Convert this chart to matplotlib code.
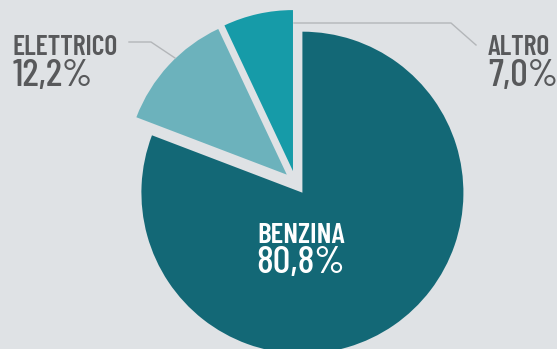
import matplotlib
matplotlib.use("Agg")
import matplotlib.pyplot as plt

# Fuel type shares
categories = ["ALTRO", "ELETTRICO", "BENZINA"]
shares = [7.0, 12.2, 80.8]
share_labels = ["7,0%", "12,2%", "80,8%"]
colors = ["#169ba8", "#6cb2bc", "#136876"]

BG = "#dfe2e5"
TXT = "#58595b"
LINE = "#b3b6b9"
FONT = ["Barlow Condensed", "DejaVu Sans"]

W, H = 557, 349
fig = plt.figure(figsize=(W / 100, H / 100), dpi=100, facecolor=BG)
ax = fig.add_axes([0, 0, 1, 1])
ax.set_facecolor(BG)

ax.pie(shares, colors=colors, startangle=90, counterclock=True,
       center=(295.6, H - 182.8), radius=161, explode=[12] * 3,
       wedgeprops=dict(linewidth=0), frame=True)
ax.set_xlim(0, W)
ax.set_ylim(0, H)
ax.set_aspect("equal")
ax.axis("off")

# Leader lines
ax.plot([129, 151, 175], [H - 42, H - 42, H - 58], color=LINE, lw=1)
ax.plot([294, 451, 476], [H - 23, H - 23, H - 45], color=LINE, lw=1)

# Labels
name_kw = dict(fontsize=20, fontweight=600, family=FONT, ha="left", va="baseline")
pct_kw = dict(fontsize=28, fontweight=500, family=FONT, ha="left", va="baseline")
ax.text(13, H - 55, categories[1], color=TXT, **name_kw)
ax.text(13, H - 86, share_labels[1], color=TXT, **pct_kw)
ax.text(488, H - 55, categories[0], color=TXT, **name_kw)
ax.text(488, H - 86, share_labels[0], color=TXT, **pct_kw)
ax.text(301, H - 243, categories[2], color="white", **{**name_kw, "ha": "center", "fontsize": 21})
ax.text(301, H - 273, share_labels[2], color="white", **{**pct_kw, "ha": "center"})

fig.savefig("out.png", dpi=100, facecolor=BG)
